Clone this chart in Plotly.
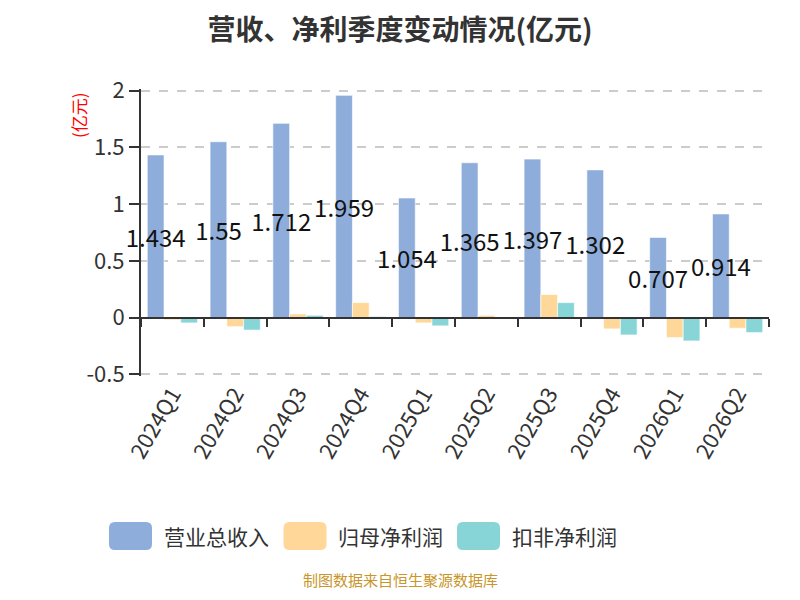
import plotly.graph_objects as go

# Quarterly revenue / profit, 亿元
quarters = ["2024Q1", "2024Q2", "2024Q3", "2024Q4", "2025Q1",
            "2025Q2", "2025Q3", "2025Q4", "2026Q1", "2026Q2"]
revenue = [1.434, 1.55, 1.712, 1.959, 1.054, 1.365, 1.397, 1.302, 0.707, 0.914]
net_profit = [-0.02, -0.08, 0.032, 0.132, -0.047, 0.02, 0.203, -0.10, -0.176, -0.094]
net_profit_ded = [-0.047, -0.11, 0.02, 0.01, -0.073, 0.003, 0.132, -0.153, -0.206, -0.132]

series_names = ["营业总收入", "归母净利润", "扣非净利润"]
colors = ["#8EADDB", "#FFD899", "#88D5D8"]
y_ticks = [-0.5, 0, 0.5, 1, 1.5, 2]
# small padding: plotly drops grid lines lying within 1px of the range ends
Y_PAD = 0.015
y_range = [y_ticks[0] - Y_PAD, y_ticks[-1] + Y_PAD]

FONT = "Noto Sans CJK SC, Microsoft YaHei, sans-serif"

# the page body has an 8px margin, so the figure is 784x584 and
# everything below is laid out in page pixels minus that offset
OFF = 8
W, H = 800 - 2 * OFF, 600 - 2 * OFF
Y_TOP_PX, Y_BOT_PX = 91, 374          # where 2 and -0.5 sit in the page
pad_px = Y_PAD * (Y_BOT_PX - Y_TOP_PX) / (y_ticks[-1] - y_ticks[0])
L = 141 - OFF
R = W - (769 - OFF)
T = round(Y_TOP_PX - pad_px) - OFF
B = H - (round(Y_BOT_PX + pad_px) - OFF)
PW, PH = W - L - R, H - T - B


def px_x(px):
    return (px - OFF - L) / PW


def px_y(py):
    return (H - B - (py - OFF)) / PH


fig = go.Figure()

for name, vals, col in zip(series_names, [revenue, net_profit, net_profit_ded], colors):
    is_rev = name == "营业总收入"
    fig.add_trace(go.Bar(
        x=quarters, y=vals, name=name,
        marker=dict(color=col, line=dict(color="rgba(255,255,255,0.6)", width=1)),
        text=[str(v) for v in vals] if is_rev else None,
        textposition="inside" if is_rev else "none",
        insidetextanchor="middle", textangle=0, constraintext="none",
        cliponaxis=False,
        textfont=dict(size=24, color="#111", family=FONT),
        hoverinfo="x+y+name", showlegend=False,
    ))

# invisible trace to carry the zero-line axis
fig.add_trace(go.Scatter(x=quarters, y=revenue, xaxis="x2", mode="none",
                         showlegend=False, hoverinfo="skip"))

fig.update_layout(
    width=W, height=H,
    barmode="group", bargap=0.2, bargroupgap=0.0,
    plot_bgcolor="white", paper_bgcolor="white",
    margin=dict(l=L, r=R, t=T, b=B),
    font=dict(family=FONT, color="#333"),
    title=dict(text="<b>营收、净利季度变动情况(亿元)</b>", x=0.5, xanchor="center",
               y=1 - (30 - OFF) / H, yanchor="middle",
               font=dict(size=28, color="#333", family=FONT)),
    xaxis=dict(type="category", categoryorder="array", categoryarray=quarters,
               range=[-0.5, len(quarters) - 0.5],
               showline=False, ticks="", tickangle=-60,
               ticklabelstandoff=0,
               tickfont=dict(size=22, color="#333")),
    xaxis2=dict(type="category", categoryorder="array", categoryarray=quarters,
                range=[-0.5, len(quarters) - 0.5], overlaying="x", anchor="free",
                position=(0 - y_range[0]) / (y_range[1] - y_range[0]),
                showline=True, linecolor="#333", linewidth=2,
                ticks="outside", tickson="boundaries", ticklen=8,
                tickcolor="#333", tickwidth=2,
                showticklabels=False, showgrid=False),
    yaxis=dict(range=y_range, tickvals=y_ticks,
               ticktext=[f"{v:g}" for v in y_ticks],
               showline=True, linecolor="#333", linewidth=2,
               ticks="outside", ticklen=10, tickcolor="#333", tickwidth=2,
               showgrid=True, gridcolor="#cccccc", gridwidth=1.5, griddash="dash",
               zeroline=False, tickfont=dict(size=22, color="#333")),
)

# unit label
fig.add_annotation(text="(亿元)", xref="paper", yref="paper",
                   x=px_x(78), y=px_y(115), xanchor="center", yanchor="middle",
                   textangle=-90, showarrow=False,
                   font=dict(size=17, color="red", family=FONT))

# custom legend with large rounded swatches
legend_box_cx = [130.5, 305, 478.5]
legend_text_x = [162, 336, 510]
legend_y = 536
w, h, r = 43, 28, 6
rounded = (f"M {-w/2 + r},{-h/2} L {w/2 - r},{-h/2} Q {w/2},{-h/2} {w/2},{-h/2 + r} "
           f"L {w/2},{h/2 - r} Q {w/2},{h/2} {w/2 - r},{h/2} L {-w/2 + r},{h/2} "
           f"Q {-w/2},{h/2} {-w/2},{h/2 - r} L {-w/2},{-h/2 + r} Q {-w/2},{-h/2} {-w/2 + r},{-h/2} Z")
for name, col, cx, tx in zip(series_names, colors, legend_box_cx, legend_text_x):
    fig.add_shape(type="path", path=rounded, xref="paper", yref="paper",
                  xsizemode="pixel", ysizemode="pixel",
                  xanchor=px_x(cx), yanchor=px_y(legend_y),
                  fillcolor=col, line=dict(width=0))
    fig.add_annotation(text=name, xref="paper", yref="paper",
                       x=px_x(tx), y=px_y(legend_y), xanchor="left", yanchor="middle",
                       showarrow=False, font=dict(size=21, color="#333", family=FONT))

# source note, kept just inside the bottom edge
fig.add_annotation(text="制图数据来自恒生聚源数据库", xref="paper", yref="paper",
                   x=px_x(400), y=px_y(600 - OFF), xanchor="center", yanchor="bottom",
                   showarrow=False, font=dict(size=15, color="#C8962A", family=FONT))

fig.write_html("out.html")
